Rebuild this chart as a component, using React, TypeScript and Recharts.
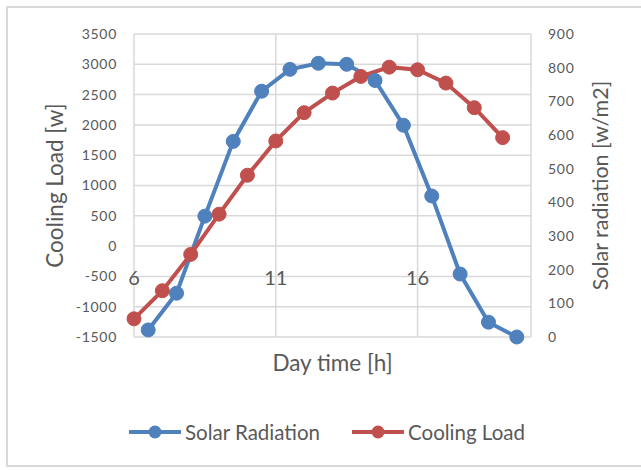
import React from 'react';
import { LineChart, Line, XAxis, YAxis, CartesianGrid, Legend } from 'recharts';

const coolingHours = [6, 7, 8, 9, 10, 11, 12, 13, 14, 15, 16, 17, 18, 19];
const coolingLoad = [-1200, -736, -137, 527, 1169, 1735, 2202, 2525, 2800, 2953, 2910, 2690, 2284, 1790];
const solarHours = [6.5, 7.5, 8.5, 9.5, 10.5, 11.5, 12.5, 13.5, 14.5, 15.5, 16.5, 17.5, 18.5, 19.5];
const solarRadiation = [21, 130, 359, 581, 730, 795, 813, 810, 762, 629, 419, 187, 44, 0];
const xTicks = [6, 11, 16];
const leftTicks = [-1500, -1000, -500, 0, 500, 1000, 1500, 2000, 2500, 3000, 3500];
const rightTicks = [0, 100, 200, 300, 400, 500, 600, 700, 800, 900];
const legendOrder = ['Solar Radiation', 'Cooling Load'];

const coolingData = coolingHours.map((x, i) => ({ x, load: coolingLoad[i] }));
const solarData = solarHours.map((x, i) => ({ x, solar: solarRadiation[i] }));

const FONT = 'Lato, "Open Sans", sans-serif';
const TEXT = '#595959';
const BLUE = '#4F81BD';
const RED = '#C0504D';

const XTick = (props: any) => {
  const { x, y, payload } = props;
  return (
    <text x={x} y={y} dy={-52} textAnchor="middle" fill={TEXT} fontSize={20} fontFamily={FONT}>
      {payload.value}
    </text>
  );
};

const LegendContent = (props: any) => {
  const items = [...(props.payload || [])].sort(
    (a: any, b: any) => legendOrder.indexOf(a.value) - legendOrder.indexOf(b.value)
  );
  return (
    <div style={{ display: 'flex', alignItems: 'center', height: 30, paddingLeft: 129, fontFamily: FONT, fontSize: 20.5, color: TEXT }}>
      {items.map((p: any, i: number) => (
        <div key={i} style={{ display: 'flex', alignItems: 'center', marginRight: 32 }}>
          <svg width={52} height={16}>
            <line x1={0} y1={8} x2={52} y2={8} stroke={p.color} strokeWidth={4} />
            <circle cx={26} cy={8} r={6.5} fill={p.color} />
          </svg>
          <span style={{ marginLeft: 4 }}>{p.value}</span>
        </div>
      ))}
    </div>
  );
};

export default function App() {
  return (
    <div style={{ position: 'absolute', left: 0, top: 0, width: 641, height: 470, background: '#fff', overflow: 'hidden' }}>
      <div style={{ position: 'absolute', left: 6, top: 6, width: 660, height: 461, borderLeft: '2px solid #d9d9d9', borderTop: '2px solid #d9d9d9', borderBottom: '2px solid #d9d9d9', boxSizing: 'border-box' }} />
      <div style={{ position: 'absolute', left: 0, top: 0 }}>
        <LineChart width={641} height={470} margin={{ top: 34, right: 0, bottom: 73, left: 0 }}>
          <CartesianGrid yAxisId="left" stroke="#d9d9d9" strokeWidth={1.5} />
          <XAxis
            type="number"
            dataKey="x"
            domain={[6, 20]}
            ticks={xTicks}
            axisLine={false}
            tickLine={false}
            tickSize={0}
            tickMargin={0}
            height={30}
            tick={<XTick />}
            allowDuplicatedCategory={false}
            label={{ value: 'Day time [h]', position: 'insideTop', offset: 18, fill: TEXT, fontSize: 22.5, fontFamily: FONT }}
          />
          <YAxis
            yAxisId="left"
            domain={[-1500, 3500]}
            ticks={leftTicks}
            width={134}
            axisLine={false}
            tickLine={false}
            tickSize={0}
            tickMargin={17}
            tick={{ fill: TEXT, fontSize: 14, fontFamily: FONT, letterSpacing: 0.7 }}
            label={{ value: 'Cooling Load [w]', angle: -90, position: 'insideLeft', offset: 55, fill: TEXT, fontSize: 22.5, fontFamily: FONT, style: { textAnchor: 'middle' } }}
          />
          <YAxis
            yAxisId="right"
            orientation="right"
            domain={[0, 900]}
            ticks={rightTicks}
            width={110}
            axisLine={false}
            tickLine={false}
            tickSize={0}
            tickMargin={17}
            tick={{ fill: TEXT, fontSize: 14, fontFamily: FONT, letterSpacing: 0.7 }}
            label={{ value: 'Solar radiation [w/m2]', angle: -90, position: 'insideRight', offset: 41, fill: TEXT, fontSize: 21.5, fontFamily: FONT, style: { textAnchor: 'middle' } }}
          />
          <Line
            yAxisId="right"
            data={solarData}
            dataKey="solar"
            name="Solar Radiation"
            stroke={BLUE}
            strokeWidth={4}
            dot={{ r: 7, fill: BLUE, stroke: BLUE, strokeWidth: 1 }}
            isAnimationActive={false}
          />
          <Line
            yAxisId="left"
            data={coolingData}
            dataKey="load"
            name="Cooling Load"
            stroke={RED}
            strokeWidth={4}
            dot={{ r: 7, fill: RED, stroke: RED, strokeWidth: 1 }}
            isAnimationActive={false}
          />
          <Legend
            verticalAlign="bottom"
            content={<LegendContent />}
            wrapperStyle={{ left: 0, top: 417, width: 641, height: 30 }}
          />
        </LineChart>
      </div>
    </div>
  );
}
